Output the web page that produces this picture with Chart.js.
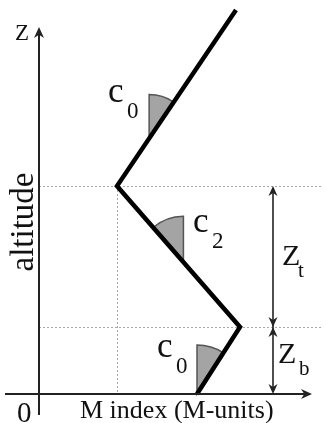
<!DOCTYPE html>
<html>
<head>
<meta charset="utf-8">
<script src="https://cdn.jsdelivr.net/npm/chart.js@4/dist/chart.umd.min.js"></script>
<style>
  html, body { margin: 0; padding: 0; background: #fff; }
  #wrap { width: 326px; height: 423px; position: relative; }
</style>
</head>
<body>
<div id="wrap"><canvas id="c" width="326" height="423"></canvas></div>
<script>
// ---- Data (M index in M-units, altitude in arbitrary units) ----
const profileM = [15.8, 20.1, 7.8, 19.7];
const profileZ = [0, 6.7, 20.8, 38.4];
const layerZb = 6.7;      // top of bottom layer
const layerZt = 20.8;     // top of trapping layer
const kinkM = 7.8;        // M at trapping layer top
// slope-angle wedges: segment index and fraction along segment
const wedgeSegment = [2, 1, 0];
const wedgeFraction = [0.27, 0.46, 0.0];
const wedgeLabels = ['0', '2', '0'];

const xMin = -3.9, xMax = 28.7, yMin = -2.9, yMax = 39.4;

const points = profileM.map((m, i) => ({ x: m, y: profileZ[i] }));

const serif = '"Liberation Serif", "DejaVu Serif", serif';

function arrowHead(ctx, x, y, dir, len, half) {
  ctx.save();
  ctx.translate(x, y);
  ctx.rotate(dir);
  ctx.beginPath();
  ctx.moveTo(0, 0);
  ctx.lineTo(-len, -half);
  ctx.lineTo(-len * 0.7, 0);
  ctx.lineTo(-len, half);
  ctx.closePath();
  ctx.fill();
  ctx.restore();
}

const diagram = {
  id: 'diagram',
  beforeDatasetsDraw(chart) {
    const ctx = chart.ctx;
    const xs = chart.scales.x, ys = chart.scales.y;
    const px = v => xs.getPixelForValue(v), py = v => ys.getPixelForValue(v);
    ctx.save();
    // dotted guide lines
    ctx.strokeStyle = '#a8a8a8';
    ctx.lineWidth = 1;
    ctx.setLineDash([2, 2]);
    [layerZb, layerZt].forEach(z => {
      ctx.beginPath();
      ctx.moveTo(px(0), Math.round(py(z)) + 0.5);
      ctx.lineTo(px(28.2), Math.round(py(z)) + 0.5);
      ctx.stroke();
    });
    ctx.beginPath();
    ctx.moveTo(Math.round(px(kinkM)) + 0.5, py(layerZt));
    ctx.lineTo(Math.round(px(kinkM)) + 0.5, py(0));
    ctx.stroke();
    ctx.setLineDash([]);

    // wedges
    wedgeSegment.forEach((s, i) => {
      const x0 = px(profileM[s]), y0 = py(profileZ[s]);
      const x1 = px(profileM[s + 1]), y1 = py(profileZ[s + 1]);
      const f = wedgeFraction[i];
      const vx = x0 + (x1 - x0) * f, vy = y0 + (y1 - y0) * f;
      const ang = Math.atan2(y1 - y0, x1 - x0);
      const r = [44, 46, 49][i];
      const up = -Math.PI / 2;
      const a0 = Math.min(up, ang), a1 = Math.max(up, ang);
      ctx.beginPath();
      ctx.moveTo(vx, vy);
      ctx.arc(vx, vy, r, a0, a1);
      ctx.closePath();
      ctx.fillStyle = '#a4a4a4';
      ctx.fill();
      ctx.strokeStyle = '#555';
      ctx.lineWidth = 1.5;
      ctx.stroke();
    });
    ctx.restore();
  },
  afterDatasetsDraw(chart) {
    const ctx = chart.ctx;
    const xs = chart.scales.x, ys = chart.scales.y;
    const px = v => xs.getPixelForValue(v), py = v => ys.getPixelForValue(v);
    ctx.save();
    ctx.strokeStyle = '#222';
    ctx.fillStyle = '#222';
    ctx.lineWidth = 2;
    // y axis
    const ax = Math.round(px(0)), ay = Math.round(py(0));
    ctx.beginPath();
    ctx.moveTo(ax, py(-2.1));
    ctx.lineTo(ax, py(36.5));
    ctx.stroke();
    arrowHead(ctx, ax, py(36.7), -Math.PI / 2, 11, 5);
    // x axis
    ctx.beginPath();
    ctx.moveTo(px(-3.4), ay);
    ctx.lineTo(px(27.1), ay);
    ctx.stroke();
    arrowHead(ctx, px(27.3), ay, 0, 11, 5);

    // thickness arrows Zt, Zb
    const dx = Math.round(px(23.4));
    ctx.lineWidth = 1.6;
    ctx.beginPath();
    ctx.moveTo(dx, py(layerZt) + 2);
    ctx.lineTo(dx, py(0) - 2);
    ctx.stroke();
    arrowHead(ctx, dx, py(layerZt), -Math.PI / 2, 10, 4.5);
    arrowHead(ctx, dx, py(layerZb), Math.PI / 2, 10, 4.5);
    arrowHead(ctx, dx, py(layerZb), -Math.PI / 2, 10, 4.5);
    arrowHead(ctx, dx, py(0), Math.PI / 2, 10, 4.5);

    // texts
    ctx.fillStyle = '#111';
    ctx.textBaseline = 'alphabetic';
    ctx.textAlign = 'left';
    function lab(main, sub, m, z, fMain, fSub, sdx, sdy) {
      ctx.font = fMain + 'px ' + serif;
      const x = px(m), y = py(z);
      ctx.fillText(main, x, y);
      if (sub) {
        ctx.font = fSub + 'px ' + serif;
        ctx.fillText(sub, x + sdx, y + sdy);
      }
    }
    lab('c', wedgeLabels[0], 6.9, 29.2, 35, 23, 19, 16);
    lab('c', wedgeLabels[1], 15.4, 16.2, 35, 23, 19, 16);
    lab('c', wedgeLabels[2], 11.8, 3.7, 35, 23, 19, 16);
    lab('Z', 't', 24.3, 12.9, 30, 21, 16, 12);
    lab('Z', 'b', 23.9, 3.1, 30, 21, 21, 12);
    lab('Z', '', -2.4, 35.4, 23, 0, 0, 0);
    lab('0', '', -2.2, -2.8, 29, 0, 0, 0);
    ctx.font = '26px ' + serif;
    ctx.fillText('M index (M-units)', px(4.1), py(-2.4));
    // altitude rotated
    ctx.save();
    ctx.translate(px(-0.6), py(17.2));
    ctx.rotate(-Math.PI / 2);
    ctx.textAlign = 'center';
    ctx.font = '33px ' + serif;
    ctx.fillText('altitude', 0, 0);
    ctx.restore();
    ctx.restore();
  }
};

new Chart(document.getElementById('c'), {
  type: 'scatter',
  data: {
    datasets: [{
      data: points,
      showLine: true,
      borderColor: '#000',
      borderWidth: 4.5,
      pointRadius: 0,
      borderJoinStyle: 'miter',
      borderCapStyle: 'butt',
      tension: 0
    }]
  },
  options: {
    responsive: false,
    animation: false,
    events: [],
    layout: { padding: 0 },
    plugins: { legend: { display: false }, tooltip: { enabled: false } },
    scales: {
      x: { type: 'linear', display: false, min: xMin, max: xMax },
      y: { type: 'linear', display: false, min: yMin, max: yMax }
    }
  },
  plugins: [diagram]
});
</script>
</body>
</html>
